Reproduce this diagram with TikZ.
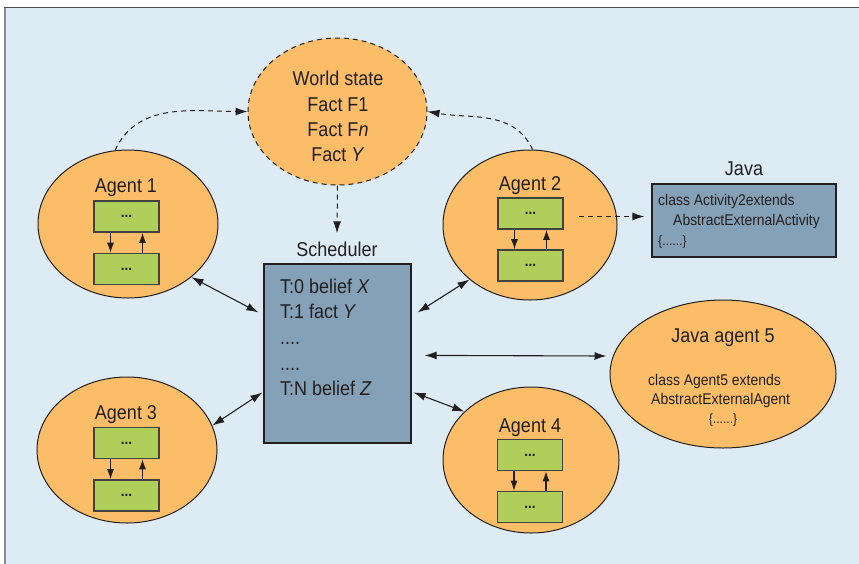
\documentclass[tikz,border=0pt]{standalone}
\usepackage{fontspec}
\setmainfont{Liberation Sans}[FakeStretch=0.9]
\usetikzlibrary{shapes.geometric,arrows.meta,calc}
\definecolor{bgblue}{RGB}{221,235,244}
\definecolor{orng}{RGB}{251,189,104}
\definecolor{grn}{RGB}{175,207,90}
\definecolor{slate}{RGB}{133,161,183}
\definecolor{ink}{RGB}{35,31,32}
\begin{document}
\begin{tikzpicture}[x=1pt,y=-1pt,
  agent/.style={ellipse, draw=ink, line width=1pt, fill=orng, inner sep=0pt},
  gbox/.style={draw=ink!85, line width=1.6pt, fill=grn, minimum width=65pt, minimum height=31pt, inner sep=0pt, font=\fontsize{15}{15}\selectfont\bfseries, text=ink},
  sbox/.style={draw=ink, line width=1.2pt, fill=slate, inner sep=0pt},
  big/.style={font=\fontsize{20}{24}\selectfont, text=ink, inner sep=0pt},
  small/.style={font=\fontsize{15.5}{19}\selectfont, text=ink, inner sep=0pt},
  tiny/.style={font=\fontsize{13.5}{16}\selectfont, text=ink, inner sep=0pt},
  dashline/.style={draw=ink, dash pattern=on 5pt off 4pt, line width=1pt, -{Latex[length=12pt,width=8pt]}},
  link/.style={draw=ink, line width=1.1pt, {Latex[length=12pt,width=8pt]}-{Latex[length=12pt,width=8pt]}},
  innerarrow/.style={draw=ink, line width=1.1pt, -{Latex[length=10pt,width=7pt]}}]
\useasboundingbox (0,0) rectangle (859,563);
% background frame
\fill[bgblue] (4.5,7.5) rectangle (870,575);
\draw[line width=2pt, draw=black!45] (4.5,7.5) -- (4.5,570);
\draw[line width=1.5pt, draw=black!70] (3.5,7.5) -- (870,7.5);

% ellipses
\node[agent, dash pattern=on 5pt off 4pt, minimum width=179pt, minimum height=147pt] (ws) at (337.5,111.5) {};
\node[agent, minimum width=180pt, minimum height=148pt] (a1) at (128,224) {};
\node[agent, minimum width=174pt, minimum height=150pt] (a2) at (530,225) {};
\node[agent, minimum width=180pt, minimum height=146pt] (a3) at (127,450) {};
\node[agent, minimum width=176pt, minimum height=146pt] (a4) at (531,460) {};
\node[agent, minimum width=226pt, minimum height=148pt] (j5) at (723,374) {};

% world state text
\node[big, anchor=base] (ws1) at (338,85) {World state};
\node[big, anchor=base] (ws2) at (338,111) {Fact F1};
\node[big, anchor=base] (ws3) at (338,136) {Fact F\textit{n}};
\node[big, anchor=base] (ws4) at (338,161) {Fact \textit{Y}};

% agent labels and boxes
\node[big, anchor=base] (a1l) at (126,192) {Agent 1};
\node[gbox] (a1t) at (126.5,216.5) {...};
\node[gbox] (a1b) at (126.5,269) {...};
\node[big, anchor=base] (a2l) at (530,190) {Agent 2};
\node[gbox] (a2t) at (530.5,213.5) {...};
\node[gbox] (a2b) at (530.5,265.5) {...};
\node[big, anchor=base] (a3l) at (126,419) {Agent 3};
\node[gbox] (a3t) at (126.5,443) {...};
\node[gbox] (a3b) at (126.5,495.5) {...};
\node[big, anchor=base] (a4l) at (530,432) {Agent 4};
\node[gbox] (a4t) at (530,455) {...};
\node[gbox] (a4b) at (530,507) {...};

% scheduler
\node[big, anchor=base] (schl) at (337,256) {Scheduler};
\node[sbox, minimum width=147pt, minimum height=179pt] (sch) at (337.5,353.5) {};
\node[big, anchor=base west] (s1) at (280,293) {T:0 belief \textit{X}};
\node[big, anchor=base west] (s2) at (280,318) {T:1 fact \textit{Y}};
\node[big, anchor=base west] (s3) at (280,344) {....};
\node[big, anchor=base west] (s4) at (280,370) {....};
\node[big, anchor=base west] (s5) at (280,395) {T:N belief \textit{Z}};

% java box
\node[big, anchor=base] (jl) at (744,175) {Java};
\node[sbox, minimum width=184pt, minimum height=73pt] (jbox) at (744,220.5) {};
\node[small, anchor=base west] (j1) at (658,205) {class Activity2extends};
\node[small, anchor=base west] (j2) at (673,225) {AbstractExternalActivity};
\node[tiny, anchor=base west] (j3) at (658,245) {\{......\}};

% java agent 5 text
\node[big, anchor=base] (j5l) at (723,342) {Java agent 5};
\node[small, anchor=base west] (j5a) at (648,385) {class Agent5 extends};
\node[small, anchor=base west] (j5b) at (651,404) {AbstractExternalAgent};
\node[tiny, anchor=base] (j5c) at (723,423) {\{......\}};

% inner arrows
\foreach \t/\b in {a1t/a1b,a2t/a2b,a3t/a3b,a4t/a4b}{
  \draw[innerarrow] ($(\t.south)+(-16,0)$) -- ($(\b.north)+(-16,0)$);
  \draw[innerarrow] ($(\b.north)+(16,0)$) -- ($(\t.south)+(16,0)$);
}

% dashed connectors
\draw[dashline] (a1.100) to[out=65,in=180] (ws.west);
\draw[dashline] (a2.88) to[out=115,in=-10] (ws.east);
\draw[dashline] (ws.south) -- ($(schl.north)+(0,-8)$);
\draw[dashline] ($(a2t.east)+(15,3)$) -- ($(jbox.west)+(-7,-4)$);

% solid links
\draw[link] (a1.-40) -- ($(sch.north west)+(-5,49)$);
\draw[link] (a3.16) -- ($(sch.north west)+(-1,129)$);
\draw[link] (a2.222) -- ($(sch.north east)+(6,49)$);
\draw[link] ($(sch.north east)+(13,92)$) -- ($(j5.west)+(-3,-18)$);
\draw[link] ($(sch.north east)+(2,129)$) -- (a4.144);
\end{tikzpicture}
\end{document}
